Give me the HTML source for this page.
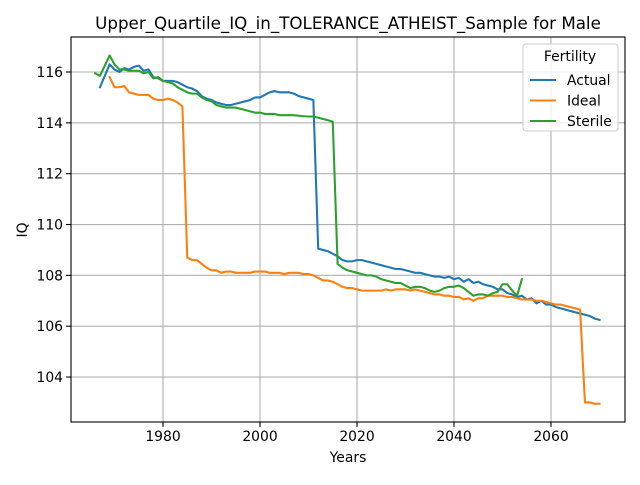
<!DOCTYPE html>
<html><head><meta charset="utf-8"><style>body{margin:0;background:#fff}svg{font-family:"DejaVu Sans","Liberation Sans",sans-serif}</style></head>
<body>
<svg id="c" width="640" height="480" xmlns="http://www.w3.org/2000/svg"></svg>
<script>
const actualYears=[1967,1969,1970,1971,1972,1973,1974,1975,1976,1977,1978,1979,1980,1981,1982,1983,1984,1985,1986,1987,1988,1989,1990,1991,1992,1993,1994,1995,1996,1997,1998,1999,2000,2001,2002,2003,2004,2005,2006,2007,2008,2009,2010,2011,2012,2013,2014,2015,2016,2017,2018,2019,2020,2021,2022,2023,2024,2025,2026,2027,2028,2029,2030,2031,2032,2033,2034,2035,2036,2037,2038,2039,2040,2041,2042,2043,2044,2045,2046,2047,2048,2049,2050,2051,2052,2053,2054,2055,2056,2057,2058,2059,2060,2061,2062,2063,2064,2065,2066,2067,2068,2069,2070];
const actualVals=[115.4,116.3,116.1,116.0,116.15,116.1,116.2,116.25,116.05,116.1,115.8,115.75,115.65,115.65,115.65,115.6,115.5,115.4,115.35,115.25,115.05,114.95,114.9,114.8,114.75,114.7,114.7,114.75,114.8,114.85,114.9,115.0,115.0,115.1,115.2,115.25,115.2,115.2,115.2,115.15,115.05,115.0,114.95,114.9,109.05,109.0,108.95,108.85,108.75,108.6,108.55,108.55,108.6,108.6,108.55,108.5,108.45,108.4,108.35,108.3,108.25,108.25,108.2,108.15,108.1,108.1,108.05,108.0,107.95,107.95,107.9,107.95,107.85,107.9,107.75,107.85,107.7,107.75,107.65,107.6,107.55,107.45,107.45,107.3,107.25,107.15,107.2,107.05,107.1,106.9,107.0,106.85,106.85,106.75,106.7,106.65,106.6,106.55,106.5,106.45,106.4,106.3,106.25];
const idealYears=[1969,1970,1971,1972,1973,1974,1975,1976,1977,1978,1979,1980,1981,1982,1983,1984,1985,1986,1987,1988,1989,1990,1991,1992,1993,1994,1995,1996,1997,1998,1999,2000,2001,2002,2003,2004,2005,2006,2007,2008,2009,2010,2011,2012,2013,2014,2015,2016,2017,2018,2019,2020,2021,2022,2023,2024,2025,2026,2027,2028,2029,2030,2031,2032,2033,2034,2035,2036,2037,2038,2039,2040,2041,2042,2043,2044,2045,2046,2047,2048,2049,2050,2051,2052,2053,2054,2055,2056,2057,2058,2059,2060,2061,2062,2063,2064,2065,2066,2067,2068,2069,2070];
const idealVals=[115.8,115.4,115.4,115.45,115.2,115.15,115.1,115.1,115.1,114.95,114.9,114.9,114.95,114.9,114.8,114.65,108.7,108.6,108.6,108.45,108.3,108.2,108.2,108.1,108.15,108.15,108.1,108.1,108.1,108.1,108.15,108.15,108.15,108.1,108.1,108.1,108.05,108.1,108.1,108.1,108.05,108.05,108.0,107.9,107.8,107.8,107.75,107.65,107.55,107.5,107.5,107.45,107.4,107.4,107.4,107.4,107.4,107.45,107.4,107.45,107.45,107.45,107.4,107.45,107.4,107.35,107.3,107.25,107.25,107.2,107.2,107.15,107.15,107.05,107.1,107.0,107.1,107.1,107.2,107.2,107.2,107.2,107.15,107.15,107.1,107.05,107.05,107.05,107.0,107.0,106.95,106.9,106.85,106.85,106.8,106.75,106.7,106.65,103.0,103.0,102.95,102.95];
const sterileYears=[1966,1967,1969,1970,1971,1972,1973,1974,1975,1976,1977,1978,1979,1980,1981,1982,1983,1984,1985,1986,1987,1988,1989,1990,1991,1992,1993,1994,1995,1996,1997,1998,1999,2000,2001,2002,2003,2004,2005,2006,2007,2008,2009,2010,2011,2012,2013,2014,2015,2016,2017,2018,2019,2020,2021,2022,2023,2024,2025,2026,2027,2028,2029,2030,2031,2032,2033,2034,2035,2036,2037,2038,2039,2040,2041,2042,2043,2044,2045,2046,2047,2048,2049,2050,2051,2052,2053,2054];
const sterileVals=[115.95,115.85,116.65,116.3,116.1,116.1,116.05,116.05,116.05,115.95,116.0,115.75,115.8,115.65,115.6,115.55,115.4,115.3,115.2,115.15,115.15,115.0,114.9,114.85,114.7,114.65,114.6,114.6,114.6,114.55,114.5,114.45,114.4,114.4,114.35,114.35,114.35,114.3,114.3,114.3,114.3,114.28,114.26,114.25,114.25,114.2,114.15,114.1,114.05,108.45,108.3,108.2,108.15,108.1,108.05,108.0,108.0,107.95,107.85,107.8,107.75,107.7,107.7,107.6,107.5,107.55,107.55,107.5,107.4,107.35,107.4,107.5,107.55,107.55,107.6,107.5,107.35,107.2,107.25,107.25,107.2,107.3,107.35,107.65,107.65,107.4,107.2,107.85];
const xTicks=[1980,2000,2020,2040,2060];
const yTicks=[104,106,108,110,112,114,116];
const L=71,R=625,T=37,B=422;
const xs=v=>163+(v-1980)*4.85;
const ys=v=>72+(116-v)*25.42;
const svg=document.getElementById('c');const NS='http://www.w3.org/2000/svg';
function mk(t,a,p){const e=document.createElementNS(NS,t);for(const k in a)e.setAttribute(k,a[k]);(p||svg).appendChild(e);return e;}
xTicks.forEach(t=>{const x=xs(t);
const g=mk('line',{x1:x,x2:x,y1:T,y2:B,stroke:'#b0b0b0','stroke-width':1.1});
mk('line',{x1:x,x2:x,y1:B,y2:B+4.9,stroke:'#000','stroke-width':1.1});
const tx=mk('text',{x:x,y:B+19,'font-size':13.9,'text-anchor':'middle'});tx.textContent=t;});
yTicks.forEach(t=>{const y=ys(t);
const g=mk('line',{x1:L,x2:R,y1:y,y2:y,stroke:'#b0b0b0','stroke-width':1.1});
mk('line',{x1:L-4.9,x2:L,y1:y,y2:y,stroke:'#000','stroke-width':1.1});
const tx=mk('text',{x:L-8,y:y+5,'font-size':13.9,'text-anchor':'end'});tx.textContent=t;});
function line(xa,va,c,n){const p=mk('polyline',{points:xa.map((x,i)=>xs(x)+','+ys(va[i])).join(' '),fill:'none',stroke:c,'stroke-width':2.08,'stroke-linejoin':'round','stroke-linecap':'square'});}
line(actualYears,actualVals,'#1f77b4','actual-line');
line(idealYears,idealVals,'#ff7f0e','ideal-line');
line(sterileYears,sterileVals,'#2ca02c','sterile-line');
const fr=mk('rect',{x:L,y:T,width:R-L,height:B-T,fill:'none',stroke:'#000','stroke-width':1.1});
let t=mk('text',{x:348,y:29,'font-size':16.7,'text-anchor':'middle'});t.textContent='Upper_Quartile_IQ_in_TOLERANCE_ATHEIST_Sample for Male';
t=mk('text',{x:348,y:462,'font-size':13.9,'text-anchor':'middle'});t.textContent='Years';
t=mk('text',{x:27,y:230,'font-size':13.9,'text-anchor':'middle',transform:'rotate(-90 27 230)'});t.textContent='IQ';
const lg=mk('rect',{x:523,y:44,width:95,height:87,rx:3,fill:'#fff','fill-opacity':0.8,stroke:'#ccc'});
t=mk('text',{x:570,y:61,'font-size':13.9,'text-anchor':'middle'});t.textContent='Fertility';
[['Actual','#1f77b4'],['Ideal','#ff7f0e'],['Sterile','#2ca02c']].forEach((s,i)=>{const y=80+i*20.5;
const l=mk('line',{x1:530,x2:556,y1:y,y2:y,stroke:s[1],'stroke-width':2.08});
const tx=mk('text',{x:567,y:y+5,'font-size':13.9});tx.textContent=s[0];});
</script>
</body></html>
